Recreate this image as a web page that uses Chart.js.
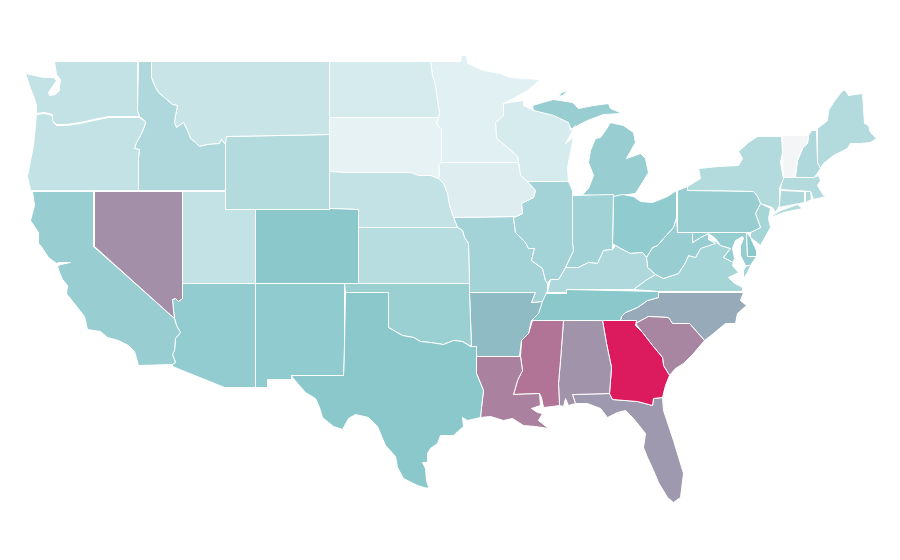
<!DOCTYPE html>
<html>
<head>
    <title>US choropleth</title>
    <meta charset="utf-8" />
    <script src="https://cdn.jsdelivr.net/npm/chart.js"></script>
    <style>
        html, body { margin: 0; padding: 0; background: #fff; }
        #chartContainer { width: 900px; height: 560px; }
    </style>
</head>
<body>
    <div id="chartContainer"><canvas id="myChart" width="900" height="560"></canvas></div>
    <script>
        // State outlines as x,y pairs on the map's own 900 x 560 grid
        var washington = [54,61, 137,61, 137,110, 139,116, 108,116, 93,119, 80,122, 66,124, 56,124, 52,120, 52,114, 44,112, 36,113, 36,105, 34,98, 30,88, 25,73, 43,77, 53,77, 56,80, 52,86, 48,92, 49,95, 55,94, 59,90, 59,85, 60,79, 56,74, 55,68];
        var oregon = [36,114, 44,113, 52,115, 53,122, 56,125, 66,125, 80,123, 93,120, 108,117, 139,117, 145,121, 144,126, 140,135, 136,142, 134,148, 139,149, 138,157, 138,190, 30,190, 27,176, 30,160, 33,145, 35,125];
        var idaho = [138,61, 151,61, 151,77, 154,85, 158,92, 165,98, 172,104, 177,105, 175,115, 174,122, 176,127, 183,122, 187,130, 190,138, 195,142, 199,146, 207,144, 219,143, 221,139, 225,144, 225,190, 138,190, 138,157, 139,149, 134,148, 136,142, 140,135, 144,126, 145,121, 139,116, 137,110];
        var montana = [151,61, 329,61, 329,134, 226,136, 225,144, 221,139, 219,143, 207,144, 199,146, 195,142, 190,138, 187,130, 183,122, 176,127, 174,122, 175,115, 177,105, 172,104, 165,98, 158,92, 154,85, 151,77];
        var wyoming = [225,136, 329,134, 329,209, 225,209];
        var utah = [182,191, 225,191, 225,209, 255,209, 255,283, 182,283];
        var colorado = [255,209, 329,208, 358,209, 358,283, 255,283];
        var nevada = [94,191, 182,191, 182,298, 178,301, 175,298, 172,299, 173,310, 174,318, 94,246];
        var california = [32,191, 93,191, 93,246, 174,318, 176,325, 180,332, 175,338, 174,350, 172,354, 175,362, 172,364, 138,365, 134,351, 128,345, 118,340, 107,337, 100,331, 87,329, 84,316, 73,302, 66,293, 67,285, 62,279, 59,272, 57,266, 60,264, 70,262, 58,262, 56,263, 48,257, 40,245, 38,243, 38,232, 30,220, 34,205];
        var arizona = [182,283, 255,283, 255,387, 224,387, 172,366, 172,364, 175,362, 172,354, 174,350, 175,338, 180,332, 176,325, 174,318, 173,310, 172,299, 175,298, 178,301, 182,298];
        var newMexico = [255,283, 344,283, 344,343, 343,375, 291,375, 291,379, 267,379, 267,387, 255,387];
        var texas = [345,292, 388,292, 388,327, 395,331, 402,335, 413,337, 420,341, 430,342, 443,344, 453,340, 462,341, 470,346, 476,346, 476,373, 483,390, 481,407, 480,417, 467,420, 462,417, 463,426, 453,435, 440,435, 437,443, 430,448, 427,453, 427,462, 422,462, 425,468, 426,480, 428,486, 427,488, 417,485, 403,478, 397,467, 395,456, 385,445, 377,426, 368,417, 355,414, 348,418, 342,429, 333,426, 322,417, 319,407, 315,398, 305,392, 292,377, 291,375, 343,375, 344,343];
        var oklahoma = [344,283, 469,283, 469,293, 471,346, 462,341, 453,340, 443,344, 430,342, 420,341, 413,337, 402,335, 395,331, 388,327, 388,292, 345,292];
        var kansas = [358,227, 457,227, 462,230, 464,237, 468,243, 469,283, 358,283];
        var nebraska = [329,171, 345,172, 410,172, 418,175, 430,175, 438,178, 443,183, 447,193, 449,205, 453,217, 457,227, 358,227, 358,209, 329,208];
        var southDakota = [329,117, 438,117, 436,123, 441,129, 441,161, 438,165, 439,170, 438,178, 430,175, 418,175, 410,172, 345,172, 329,171];
        var northDakota = [329,61, 430,61, 432,75, 435,85, 437,100, 439,112, 438,117, 329,117];
        var minnesota = [430,61, 460,61, 461,55, 466,55, 467,63, 483,70, 500,73, 510,77, 523,78, 540,79, 527,90, 515,97, 503,103, 503,115, 495,122, 496,138, 507,147, 517,156, 518,162, 441,162, 441,129, 436,123, 438,117, 439,112, 437,100, 435,85, 432,75];
        var iowa = [441,162, 518,162, 520,175, 525,179, 535,190, 533,197, 521,203, 522,213, 516,216, 453,217, 449,205, 447,193, 443,183, 438,178, 439,170, 438,165];
        var wisconsin = [503,103, 523,100, 523,105, 533,110, 553,115, 568,122, 570,130, 575,125, 565,143, 573,137, 569,157, 567,167, 568,181, 527,181, 520,175, 518,162, 517,156, 507,147, 496,138, 495,122, 503,115];
        var illinois = [527,181, 568,181, 572,190, 572,243, 573,250, 565,267, 558,279, 550,279, 547,283, 545,280, 542,268, 531,260, 534,248, 528,248, 525,242, 515,232, 513,217, 516,216, 522,213, 521,203, 533,197, 535,190, 525,179, 520,175];
        var missouri = [453,217, 516,216, 513,217, 515,232, 525,242, 528,248, 534,248, 531,260, 542,268, 545,280, 547,283, 547,290, 542,301, 531,302, 535,292, 469,292, 468,243, 464,237, 462,230, 457,227];
        var arkansas = [469,292, 535,292, 531,302, 542,301, 538,313, 531,320, 528,333, 521,340, 519,356, 476,356, 476,346, 471,346];
        var louisiana = [476,356, 520,356, 522,370, 517,380, 513,394, 539,393, 540,405, 531,408, 537,412, 542,413, 538,420, 548,428, 535,426, 523,425, 512,418, 503,420, 490,416, 480,417, 481,407, 483,390, 476,373];
        var mississippi = [532,320, 563,320, 560,360, 558,383, 559,405, 552,406, 543,407, 541,397, 539,393, 513,394, 517,380, 522,370, 520,356, 521,340, 528,333];
        var alabama = [563,320, 602,320, 606,343, 611,367, 609,393, 572,394, 575,403, 568,405, 565,398, 563,406, 559,405, 558,383, 560,360];
        var georgia = [602,320, 636,320, 635,325, 642,332, 652,345, 662,357, 663,365, 669,375, 665,385, 662,397, 653,398, 652,405, 637,401, 612,399, 609,393, 611,367, 606,343];
        var southCarolina = [635,323, 648,316, 668,317, 672,323, 689,323, 704,340, 693,353, 683,363, 675,368, 669,375, 663,365, 662,357, 652,345, 642,332];
        var florida = [572,394, 609,393, 612,399, 637,401, 652,405, 653,398, 662,397, 663,410, 673,440, 683,473, 680,497, 673,502, 667,497, 658,482, 653,470, 647,457, 643,447, 645,433, 633,418, 625,410, 617,412, 607,417, 600,408, 587,403, 575,403];
        var tennessee = [544,293, 566,293, 566,289, 658,291, 658,297, 647,300, 637,307, 625,312, 621,316, 620,320, 532,320, 535,313, 538,305, 542,297];
        var kentucky = [547,292, 550,279, 558,279, 565,267, 578,267, 588,262, 597,263, 603,250, 612,249, 615,245, 620,248, 630,253, 642,252, 646,257, 647,267, 655,274, 645,280, 633,289, 566,289, 566,292];
        var indiana = [572,195, 613,194, 612,243, 612,249, 603,250, 597,263, 588,262, 578,267, 565,267, 573,250, 572,243];
        var ohio = [613,196, 622,194, 633,196, 640,201, 652,202, 667,196, 676,190, 676,217, 673,227, 663,238, 657,245, 652,247, 646,257, 642,252, 630,253, 620,248, 615,245, 612,243];
        var michiganLower = [573,194, 580,196, 588,188, 593,175, 588,162, 590,150, 595,138, 600,137, 605,130, 610,122, 623,125, 633,132, 635,142, 626,158, 640,153, 645,158, 648,172, 642,182, 635,193, 615,196];
        var michiganUpper = [532,105, 542,102, 553,99, 560,100, 572,102, 578,108, 593,105, 608,103, 610,108, 622,113, 603,114, 587,120, 577,125, 572,130, 567,122, 550,115, 533,110];
        var keweenaw = [558,96, 561,92, 568,90, 562,95];
        var pennsylvania = [677,190, 687,186, 687,190, 753,191, 757,196, 760,203, 755,213, 760,227, 750,232, 677,232];
        var newYork = [687,190, 687,186, 700,178, 698,168, 718,166, 738,165, 742,158, 738,151, 748,142, 757,136, 781,136, 782,152, 780,162, 783,178, 779,188, 779,205, 775,212, 772,207, 760,203, 757,196, 753,191];
        var longIsland = [772,215, 780,210, 797,204, 802,208, 783,212, 773,216];
        var newJersey = [760,203, 770,208, 768,218, 770,227, 760,245, 750,237, 750,232, 760,227, 755,213];
        var delaware = [746,232, 750,237, 756,250, 756,256, 747,256];
        var maryland = [692,232, 746,232, 747,256, 756,256, 750,265, 745,265, 740,255, 740,245, 743,238, 742,236, 735,240, 732,248, 734,258, 733,262, 723,257, 730,248, 720,245, 715,238, 708,233, 700,237, 692,242];
        var westVirginia = [646,257, 652,247, 657,245, 663,238, 673,227, 676,217, 677,232, 692,232, 692,242, 700,237, 708,233, 708,239, 715,243, 700,248, 695,257, 688,255, 685,262, 678,273, 663,278, 655,274, 647,267];
        var virginia = [633,289, 645,280, 655,274, 663,278, 678,273, 685,262, 688,255, 695,257, 700,248, 708,239, 715,241, 720,245, 730,248, 723,257, 733,262, 732,265, 738,272, 728,277, 733,282, 742,287, 742,291, 667,291, 658,291];
        var virginiaShore = [745,266, 751,264, 747,272, 743,278, 743,270];
        var northCarolina = [658,292, 743,292, 740,300, 746,305, 737,313, 735,323, 725,323, 713,333, 704,340, 689,323, 672,323, 668,317, 648,316, 635,323, 620,320, 621,316, 625,312, 637,307, 647,300, 658,297];
        var connecticut = [780,190, 804,191, 804,202, 778,207, 779,205];
        var rhodeIsland = [805,191, 810,191, 811,199, 805,202];
        var massachusetts = [782,177, 813,177, 818,175, 820,180, 817,185, 823,195, 830,195, 813,199, 810,191, 780,189];
        var vermont = [782,135, 808,135, 807,143, 802,148, 797,160, 794,177, 783,177, 782,162, 782,152];
        var newHampshire = [811,130, 816,130, 817,162, 820,168, 814,177, 795,177, 797,160, 802,148, 807,143, 808,135];
        var maine = [817,128, 827,120, 828,110, 833,102, 842,90, 845,90, 848,95, 862,93, 864,123, 868,125, 870,132, 876,138, 870,142, 860,143, 850,143, 847,148, 833,155, 823,163, 820,168, 817,162];

        var stateNames = ['Washington', 'Oregon', 'Idaho', 'Montana', 'Wyoming', 'Utah', 'Colorado', 'Nevada', 'California', 'Arizona', 'New Mexico', 'Texas', 'Oklahoma', 'Kansas', 'Nebraska', 'South Dakota', 'North Dakota', 'Minnesota', 'Iowa', 'Wisconsin', 'Illinois', 'Missouri', 'Arkansas', 'Louisiana', 'Mississippi', 'Alabama', 'Georgia', 'South Carolina', 'Florida', 'Tennessee', 'Kentucky', 'Indiana', 'Ohio', 'Michigan', 'Michigan', 'Michigan', 'Pennsylvania', 'New York', 'New York', 'New Jersey', 'Delaware', 'Maryland', 'West Virginia', 'Virginia', 'Virginia', 'North Carolina', 'Connecticut', 'Rhode Island', 'Massachusetts', 'Vermont', 'New Hampshire', 'Maine'];
        var stateValues = [18, 18, 26, 16, 24, 18, 39, 59, 34, 36, 37, 39, 33, 22, 18, 5, 11, 7, 8, 11, 30, 30, 44, 64, 69, 58, 100, 63, 56, 39, 26, 31, 37, 34, 34, 34, 34, 24, 24, 29, 39, 35, 34, 29, 29, 50, 26, 26, 24, 0, 26, 24];
        var stateOutlines = [washington, oregon, idaho, montana, wyoming, utah, colorado, nevada, california, arizona, newMexico, texas, oklahoma, kansas, nebraska, southDakota, northDakota, minnesota, iowa, wisconsin, illinois, missouri, arkansas, louisiana, mississippi, alabama, georgia, southCarolina, florida, tennessee, kentucky, indiana, ohio, michiganLower, michiganUpper, keweenaw, pennsylvania, newYork, longIsland, newJersey, delaware, maryland, westVirginia, virginia, virginiaShore, northCarolina, connecticut, rhodeIsland, massachusetts, vermont, newHampshire, maine];

        // Colour scale stops: pale grey, pale teal, teal, crimson
        var scaleValues = [0, 5, 40, 100];
        var scaleColors = [[243, 245, 246], [230, 242, 244], [136, 199, 203], [220, 26, 94]];

        function valueColor(v) {
            var k = 0;
            while (k < scaleValues.length - 2 && v > scaleValues[k + 1]) k++;
            var t = (v - scaleValues[k]) / (scaleValues[k + 1] - scaleValues[k]);
            var a = scaleColors[k], b = scaleColors[k + 1];
            return 'rgb(' + a.map(function (c, i) { return Math.round(c + (b[i] - c) * t); }).join(',') + ')';
        }

        function toPoints(flat) {
            var pts = [];
            for (var i = 0; i < flat.length; i += 2) {
                pts.push({ x: flat[i], y: flat[i + 1] });
            }
            pts.push({ x: flat[0], y: flat[1] }); // close the ring
            return pts;
        }

        var datasets = stateOutlines.map(function (outline, i) {
            return {
                label: stateNames[i],
                data: toPoints(outline),
                showLine: true,
                fill: 'shape',
                backgroundColor: valueColor(stateValues[i]),
                borderColor: '#ffffff',
                borderWidth: 1,
                pointRadius: 0,
                pointHoverRadius: 0,
                tension: 0
            };
        });

        var ctx = document.getElementById('myChart').getContext('2d');
        var myChart = new Chart(ctx, {
            type: 'scatter',
            data: { datasets: datasets },
            options: {
                responsive: false,
                animation: false,
                layout: { padding: 0 },
                plugins: { legend: { display: false }, tooltip: { enabled: false } },
                scales: {
                    // half-unit offset so the straight borders land on whole pixels
                    x: { type: 'linear', display: false, min: -0.5, max: 899.5 },
                    y: { type: 'linear', display: false, min: -0.5, max: 559.5, reverse: true }
                }
            }
        });
    </script>
</body>
</html>
